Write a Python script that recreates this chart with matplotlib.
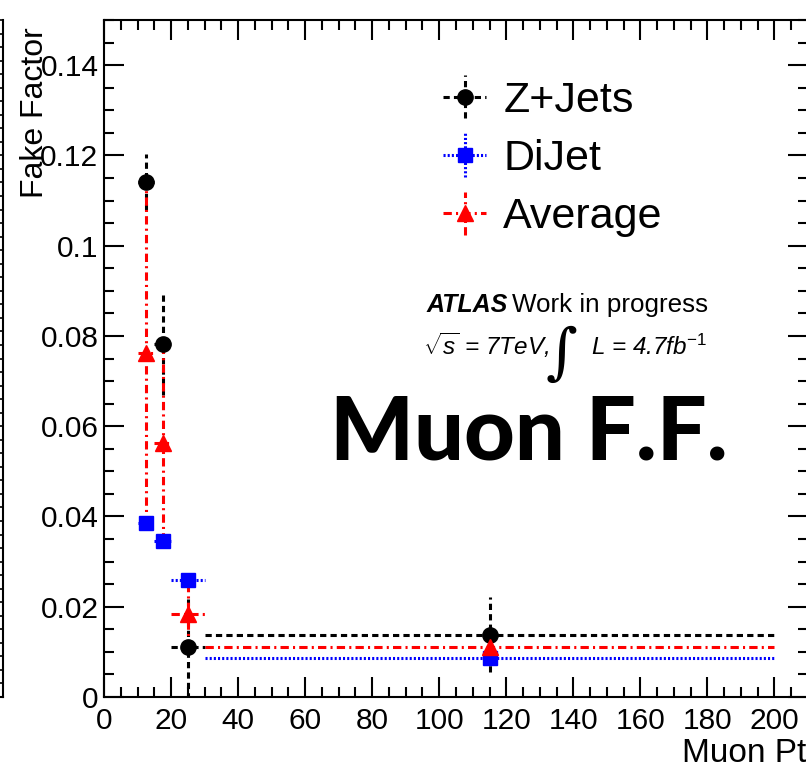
import numpy as np
import matplotlib.pyplot as plt
from matplotlib.ticker import MultipleLocator, FuncFormatter

plt.rcParams['font.family'] = ['Liberation Sans', 'DejaVu Sans']
plt.rcParams['lines.scale_dashes'] = False
plt.rcParams['mathtext.fontset'] = 'custom'
plt.rcParams['mathtext.rm'] = 'Liberation Sans'
plt.rcParams['mathtext.it'] = 'Liberation Sans:italic'
plt.rcParams['mathtext.bf'] = 'Liberation Sans:bold'

# muon pt bins: centre and half width
pt_centre = [12.5, 17.5, 25, 115]
pt_halfw = [2.5, 2.5, 5, 85]

# fake factors per sample
zjets = [0.1142, 0.0782, 0.0111, 0.0138]
zjets_err = [0.0062, 0.0113, 0.0115, 0.0083]
dijet = [0.0385, 0.0346, 0.0260, 0.0087]
dijet_err = [0.0005, 0.0005, 0.0005, 0.0005]
average = [0.0762, 0.0563, 0.0183, 0.0111]
average_err = [0.0378, 0.0218, 0.0075, 0.0025]

W, H = 806, 767
fig = plt.figure(figsize=(W / 100, H / 100), dpi=100)

# right edge of the neighbouring pad, cut off at the left
ax0 = fig.add_axes([-0.3, 70 / H, 0.3 + 2.5 / W, 677 / H])
ax0.set_ylim(0, 50)
ax0.yaxis.set_major_locator(MultipleLocator(1))
for s in ['left', 'top']:
    ax0.spines[s].set_visible(False)
ax0.spines['right'].set_linewidth(1.5)
ax0.spines['bottom'].set_linewidth(1.5)
ax0.tick_params(axis='y', left=False, right=True, direction='in', length=6,
                width=1.2, labelleft=False)
ax0.tick_params(axis='x', bottom=False, labelbottom=False)

ax = fig.add_axes([104 / W, 70 / H, 704 / W, 677 / H])


def draw(y, yerr, color, marker, ms, dash, label):
    eb = ax.errorbar(pt_centre, y, xerr=pt_halfw, yerr=yerr, fmt=marker,
                     color=color, ms=ms, elinewidth=2.2, capsize=0,
                     label=label)
    for col in eb[2]:
        col.set_linestyle(dash)
    return eb


h_z = draw(zjets, zjets_err, 'black', 'o', 11, (0, (4.5, 3)), 'Z+Jets')
h_d = draw(dijet, dijet_err, 'blue', 's', 9.5, (0, (1.5, 1.5)), 'DiJet')
h_a = draw(average, average_err, 'red', '^', 11, (0, (6, 3, 1.5, 3)), 'Average')

ax.set_xlim(0, 210)
ax.set_ylim(0, 0.15)
ax.xaxis.set_major_locator(MultipleLocator(20))
ax.xaxis.set_minor_locator(MultipleLocator(5))
ax.yaxis.set_major_locator(MultipleLocator(0.02))
ax.yaxis.set_minor_locator(MultipleLocator(0.005))
ax.yaxis.set_major_formatter(FuncFormatter(lambda v, p: f'{v:g}'))
ax.tick_params(which='both', direction='in', top=True, right=True,
               width=1.5, labelsize=21.5)
ax.tick_params(which='major', length=14.5)
ax.tick_params(which='minor', length=7.2)
ax.tick_params(axis='y', pad=4)
ax.tick_params(axis='x', pad=7)
for s in ax.spines.values():
    s.set_linewidth(1.5)

ax.set_xlabel('Muon Pt', fontsize=24, loc='right')
ax.xaxis.set_label_coords(702 / 704, -41 / 677)
ax.set_ylabel('Fake Factor', fontsize=23, loc='top')
ax.yaxis.set_label_coords(-54 / 704, 1 - 7 / 677)

ax.legend(handles=[h_z, h_d, h_a], loc='upper left',
          bbox_to_anchor=((443 - 104) / 704, 1 - (81 - 20) / 677),
          frameon=False, fontsize=31, handlelength=1.0, handletextpad=0.40,
          labelspacing=0.42, borderpad=0, borderaxespad=0)

ax.text((427 - 104) / 704, (697 - 312) / 677, 'ATLAS', transform=ax.transAxes,
        fontsize=18, fontweight='bold', style='italic', va='baseline')
ax.text((512 - 104) / 704, (697 - 312) / 677, 'Work in progress',
        transform=ax.transAxes, fontsize=18.7, va='baseline')
ax.text((423 - 104) / 704, (697 - 355) / 677, r'$\sqrt{s}$ = 7TeV,',
        transform=ax.transAxes, fontsize=17.5, style='italic', va='baseline')
ax.text((546 - 104) / 704, (697 - 372) / 677, '\u222b', transform=ax.transAxes,
        fontsize=44, family='DejaVu Serif', style='italic', va='baseline')
ax.text((591 - 104) / 704, (697 - 355) / 677, r'L = 4.7fb$^{\mathit{-1}}$',
        transform=ax.transAxes, fontsize=17.5, style='italic', va='baseline')

ax.text((330 - 104) / 704, (697 - 460) / 677, 'Muon F.F.', transform=ax.transAxes,
        fontsize=63.5, family=['Lato', 'DejaVu Sans'], fontweight='black',
        va='baseline')

fig.savefig('out.png', dpi=100)
